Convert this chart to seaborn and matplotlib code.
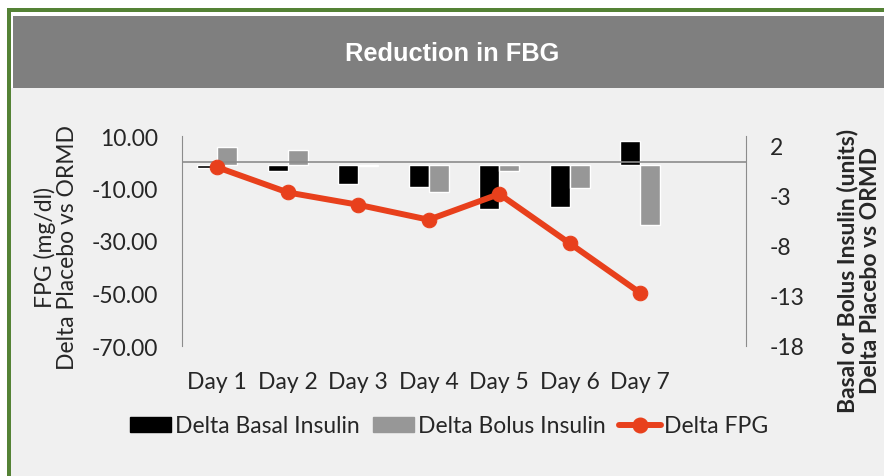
"""
Reduction in FBG - combo chart (insulin bars + FPG line)
"""

import matplotlib
matplotlib.use("Agg")
import matplotlib.pyplot as plt
from matplotlib.patches import Rectangle, Patch
from matplotlib.lines import Line2D
import seaborn as sns
import pandas as pd

# Data
days = ['Day 1', 'Day 2', 'Day 3', 'Day 4', 'Day 5', 'Day 6', 'Day 7']
delta_basal = [-0.3, -0.6, -1.9, -2.2, -4.4, -4.2, 2.4]
delta_bolus = [1.8, 1.5, -0.1, -2.7, -0.6, -2.3, -6.0]
delta_fpg = [-1.9, -11.5, -16.2, -21.9, -12.1, -30.9, -49.8]

left_ticks = [10, -10, -30, -50, -70]
right_ticks = [2, -3, -8, -13, -18]

sns.set_style("white")
plt.rcParams['font.family'] = ['Lato', 'DejaVu Sans']

BLACK = '#000000'
GREY = '#979797'
RED = '#e8401c'
TEXT = '#262626'
AXIS = '#8c8c8c'
FS = 16.5

W, H = 884, 477
fig = plt.figure(figsize=(W / 100, H / 100), dpi=100)
fig.patch.set_facecolor('white')


def px_rect(x0, y0, x1, y1, color):
    # rectangle given in pixel coords (origin top-left)
    fig.patches.append(Rectangle((x0 / W, 1 - y1 / H), (x1 - x0) / W, (y1 - y0) / H,
                                 transform=fig.transFigure, color=color, zorder=-10, lw=0))


# frame: green border, grey title band, light background
px_rect(11, 89, W, H, '#f0f0f0')
px_rect(6.5, 9, W, 13, '#548235')
px_rect(6.5, 9, 11, H, '#548235')
px_rect(12.5, 17, W, 89, '#7f7f7f')
fig.text(452 / W, 1 - 54 / H, 'Reduction in FBG', color='white', fontsize=18.3,
         fontweight='bold', family='Liberation Sans', ha='center', va='center')

ax = fig.add_axes([182 / W, 1 - 347 / H, (746 - 182) / W, (347 - 137) / H])
ax.set_facecolor('none')

# bars (insulin, units) on the main axes
bars = pd.DataFrame({
    'day': days * 2,
    'series': ['Delta Basal Insulin'] * 7 + ['Delta Bolus Insulin'] * 7,
    'value': delta_basal + delta_bolus,
})
sns.barplot(data=bars, x='day', y='value', hue='series',
            palette=[BLACK, GREY], width=0.57, gap=0, ax=ax,
            legend=False, saturation=1, errorbar=None)
ax.set_xlim(-0.5, 7.5)
ax.set_ylim(-18, 2.9)

# FPG line on a twin axis
ax2 = ax.twinx()
line_df = pd.DataFrame({'x': range(len(days)), 'fpg': delta_fpg})
ax2.axhline(0, color=AXIS, lw=1.2, zorder=1)
sns.lineplot(data=line_df, x='x', y='fpg', ax=ax2, color=RED, lw=4.3,
             marker='o', markersize=10.5, markeredgecolor=RED, zorder=3)
ax2.set_ylim(-70, 10)
ax2.set_xlim(-0.5, 7.5)

# swap sides: FPG scale on the left, insulin scale on the right
ax2.yaxis.tick_left()
ax.yaxis.tick_right()

ax2.set_yticks(left_ticks)
ax2.set_yticklabels([f'{v:.2f}' for v in left_ticks])
ax.set_yticks(right_ticks)
ax.set_yticklabels([str(v) for v in right_ticks])

ax.set_xticks(range(len(days)))
ax.set_xticklabels(days)

for a in (ax, ax2):
    a.tick_params(axis='both', length=0, labelsize=FS, colors=TEXT)
    for s in a.spines.values():
        s.set_visible(False)
ax.tick_params(axis='y', pad=17)
ax2.tick_params(axis='y', pad=17)
ax.tick_params(axis='x', pad=18)

ax.spines['left'].set_visible(True)
ax.spines['right'].set_visible(True)
ax.spines['left'].set_color(AXIS)
ax.spines['right'].set_color(AXIS)

ax.set_xlabel('')
ax.set_ylabel('')
ax2.set_xlabel('')
ax2.set_ylabel('')

# axis titles, two lines each
fig.text(56 / W, 1 - 247 / H, 'FPG (mg/dl)\nDelta Placebo vs ORMD', fontsize=FS,
         color=TEXT, rotation=90, ha='center', va='center', multialignment='center',
         linespacing=1.1)
fig.text(859 / W, 1 - 271 / H, 'Basal or Bolus Insulin (units)\nDelta Placebo vs ORMD',
         fontsize=FS, color=TEXT, fontweight='bold', rotation=90, ha='center',
         va='center', multialignment='center', linespacing=1.1)

handles = [
    Patch(color=BLACK, label='Delta Basal Insulin'),
    Patch(color=GREY, label='Delta Bolus Insulin'),
    Line2D([0], [0], color=RED, lw=4.3, marker='o', markersize=10.5, label='Delta FPG'),
]
fig.legend(handles=handles, loc='center', bbox_to_anchor=(449 / W, 1 - 427 / H),
           ncol=3, frameon=False, fontsize=FS, handlelength=1.8, handleheight=0.6,
           handletextpad=0.15, columnspacing=0.6, labelcolor=TEXT)

fig.savefig('out.png', dpi=100, facecolor=fig.get_facecolor())
